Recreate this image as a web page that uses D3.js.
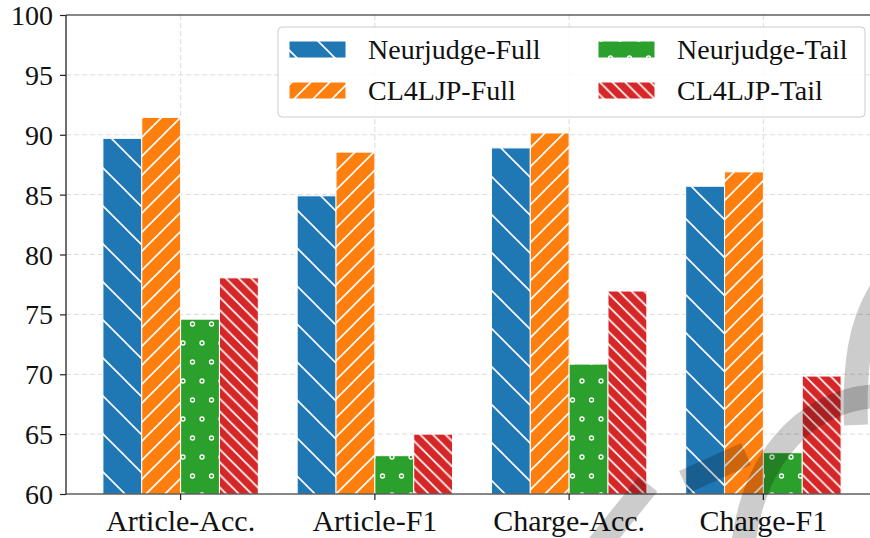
<!DOCTYPE html>
<html lang="en">
<head>
<meta charset="UTF-8">
<title>Full vs Tail</title>
<script src="https://cdn.jsdelivr.net/npm/d3@7"></script>
<style>
  body { margin: 0; background: #fff; }
  svg { display: block; }
</style>
</head>
<body>
<script>
// data
var categories = ["Article-Acc.", "Article-F1", "Charge-Acc.", "Charge-F1"];
var seriesNames = ["Neurjudge-Full", "CL4LJP-Full", "Neurjudge-Tail", "CL4LJP-Tail"];
var neurjudgeFull = [89.7, 84.9, 88.9, 85.7];
var cl4ljpFull    = [91.45, 88.55, 90.15, 86.9];
var neurjudgeTail = [74.6, 63.2, 70.85, 63.45];
var cl4ljpTail    = [78.05, 65.0, 76.95, 69.85];
var yTicks = [60, 65, 70, 75, 80, 85, 90, 95, 100];

var colors = ["#1f77b4", "#ff7f0e", "#2ca02c", "#d62728"];
var hatches = ["back1", "fwd2", "dots", "back3"];
var values = [neurjudgeFull, cl4ljpFull, neurjudgeTail, cl4ljpTail];

var width = 870, height = 538;
var plotLeft = 66, plotTop = 15, plotBottom = 494;
var serif = "'Liberation Serif', 'DejaVu Serif', serif";

var svg = d3.select("body").append("svg")
    .attr("width", width)
    .attr("height", height);

// hatch patterns, all on one grid like matplotlib
var defs = svg.append("defs");
var ox = 12, oy = 1;
function linePattern(id, s, dir) {
    var p = defs.append("pattern").attr("id", id)
        .attr("patternUnits", "userSpaceOnUse")
        .attr("x", ox).attr("y", oy)
        .attr("width", s).attr("height", s);
    var d = dir == "back"
        ? "M-2,-2L" + (s + 2) + "," + (s + 2) + "M-2," + (s - 2) + "L2," + (s + 2) + "M" + (s - 2) + ",-2L" + (s + 2) + ",2"
        : "M-2," + (s + 2) + "L" + (s + 2) + ",-2M-2,2L2,-2M" + (s - 2) + "," + (s + 2) + "L" + (s + 2) + "," + (s - 2);
    p.append("path").attr("d", d)
        .attr("stroke", "#fff").attr("stroke-width", 1.6).attr("fill", "none");
}
linePattern("back1", 38, "back");
linePattern("fwd2", 19, "fwd");
linePattern("back3", 38 / 3, "back");

var dp = defs.append("pattern").attr("id", "dots")
    .attr("patternUnits", "userSpaceOnUse")
    .attr("x", ox).attr("y", oy)
    .attr("width", 19).attr("height", 38);
[[0, 0], [19, 0], [0, 38], [19, 38], [9.5, 19]].forEach(function(c) {
    dp.append("circle").attr("cx", c[0]).attr("cy", c[1]).attr("r", 2)
        .attr("fill", "none").attr("stroke", "#fff").attr("stroke-width", 1.3);
});

// scales
var x = d3.scaleBand().domain(categories).range([plotLeft, 878])
    .paddingInner(0.2).paddingOuter(0.19);
var xs = d3.scaleBand().domain(d3.range(4)).range([0, x.bandwidth()]);
var y = d3.scaleLinear().domain([60, 100]).range([plotBottom, plotTop]);

// grid
var grid = svg.append("g").attr("stroke", "#dcdcdc").attr("stroke-dasharray", "5,3").attr("stroke-width", 1);
yTicks.slice(1, -1).forEach(function(t) {
    grid.append("line").attr("x1", plotLeft).attr("x2", width).attr("y1", y(t)).attr("y2", y(t));
});
categories.forEach(function(c) {
    var cx = x(c) + x.bandwidth() / 2;
    grid.append("line").attr("x1", cx).attr("x2", cx).attr("y1", plotTop).attr("y2", plotBottom);
});

// bars
var bars = svg.append("g");
values.forEach(function(vals, s) {
    vals.forEach(function(v, i) {
        var bx = x(categories[i]) + xs(s), bw = xs.bandwidth();
        bars.append("rect").attr("x", bx).attr("y", y(v)).attr("width", bw).attr("height", y(60) - y(v))
            .attr("fill", colors[s]);
        bars.append("rect").attr("x", bx).attr("y", y(v)).attr("width", bw).attr("height", y(60) - y(v))
            .attr("fill", "url(#" + hatches[s] + ")")
            .attr("stroke", "#fff").attr("stroke-width", 1);
    });
});

// axes
var yAxis = svg.append("g").attr("transform", "translate(" + plotLeft + ",0)")
    .call(d3.axisLeft(y).tickValues(yTicks).tickSize(6).tickPadding(7));
var xAxis = svg.append("g").attr("transform", "translate(0," + plotBottom + ")")
    .call(d3.axisBottom(x).tickSize(6).tickPadding(8));
yAxis.select(".domain").remove();
xAxis.select(".domain").remove();
[yAxis, xAxis].forEach(function(a) {
    a.selectAll("line").attr("stroke", "#222").attr("stroke-width", 1.2);
    a.selectAll("text").attr("fill", "#111").attr("font-family", serif);
});
yAxis.selectAll("text").attr("font-size", 28).attr("dy", "0.34em");
xAxis.selectAll("text").attr("font-size", 30).attr("dy", "0.78em");

// spines
svg.append("line").attr("x1", plotLeft).attr("x2", plotLeft).attr("y1", plotTop).attr("y2", plotBottom)
    .attr("stroke", "#333").attr("stroke-width", 1.4);
svg.append("line").attr("x1", plotLeft).attr("x2", width).attr("y1", plotTop).attr("y2", plotTop)
    .attr("stroke", "#111").attr("stroke-width", 1.2);
svg.append("line").attr("x1", plotLeft).attr("x2", width).attr("y1", plotBottom).attr("y2", plotBottom)
    .attr("stroke", "#111").attr("stroke-width", 1.2);

// legend
var lg = svg.append("g");
lg.append("rect").attr("x", 278).attr("y", 27).attr("width", 587).attr("height", 90).attr("rx", 4)
    .attr("fill", "#fff").attr("fill-opacity", 0.8).attr("stroke", "#ccc").attr("stroke-width", 1);
seriesNames.forEach(function(name, s) {
    var col = s < 2 ? 0 : 1, row = s % 2;
    var px = 289 + col * 309, py = 41 + row * 41;
    lg.append("rect").attr("x", px).attr("y", py).attr("width", 57).attr("height", 17).attr("fill", colors[s]);
    lg.append("rect").attr("x", px).attr("y", py).attr("width", 57).attr("height", 17)
        .attr("fill", "url(#" + hatches[s] + ")").attr("stroke", "#fff").attr("stroke-width", 1);
    lg.append("text").attr("x", px + 79).attr("y", py + 18)
        .attr("font-family", serif).attr("font-size", 28)
        .attr("fill", "#111").text(name);
});

// faint watermark in the lower right corner
var wm = svg.append("g").attr("fill", "none").attr("stroke", "#000").attr("stroke-opacity", 0.2)
    .attr("stroke-width", 24);
wm.append("path").attr("d", "M590,556L648,484");
wm.append("path").attr("d", "M684,482L746,454");
wm.append("path").attr("d", "M742,560C748,465 800,402 875,396");
wm.append("path").attr("d", "M856,425C854,365 860,325 880,292");
</script>
</body>
</html>
